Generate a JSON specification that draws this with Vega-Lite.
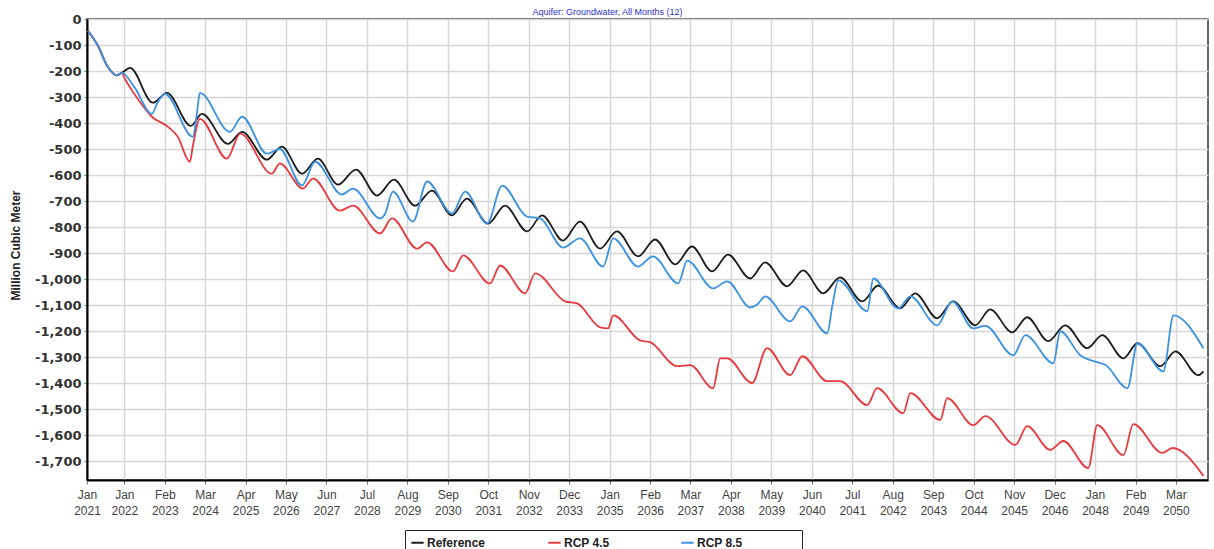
{
  "$schema": "https://vega.github.io/schema/vega-lite/v6.json",
  "width": 1121,
  "height": 461,
  "autosize": {"type": "none"},
  "padding": {"left": 87, "top": 19, "right": 6, "bottom": 69},
  "background": "white",
  "title": {"text": "Aquifer: Groundwater, All Months (12)", "fontSize": 9, "color": "#3030c8", "font": "Liberation Sans", "fontWeight": "normal", "anchor": "middle", "offset": -4, "dx": -40},
  "config": {"view": {"stroke": "#333", "strokeWidth": 1.5}},
  "data": {"values": [
    {"s": "Reference", "d": "2021-01-10", "v": -45},
    {"s": "Reference", "d": "2021-04-17", "v": -102},
    {"s": "Reference", "d": "2021-07-23", "v": -184},
    {"s": "Reference", "d": "2021-10-20", "v": -217},
    {"s": "Reference", "d": "2021-12-08", "v": -207},
    {"s": "Reference", "d": "2022-02-26", "v": -188},
    {"s": "Reference", "d": "2022-10-07", "v": -322},
    {"s": "Reference", "d": "2023-02-22", "v": -284},
    {"s": "Reference", "d": "2023-10-14", "v": -411},
    {"s": "Reference", "d": "2024-01-30", "v": -365},
    {"s": "Reference", "d": "2024-10-11", "v": -480},
    {"s": "Reference", "d": "2025-02-26", "v": -434},
    {"s": "Reference", "d": "2025-10-27", "v": -541},
    {"s": "Reference", "d": "2026-03-22", "v": -491},
    {"s": "Reference", "d": "2026-10-05", "v": -595},
    {"s": "Reference", "d": "2027-03-09", "v": -537},
    {"s": "Reference", "d": "2027-09-22", "v": -637},
    {"s": "Reference", "d": "2028-03-16", "v": -579},
    {"s": "Reference", "d": "2028-10-08", "v": -679},
    {"s": "Reference", "d": "2029-03-22", "v": -618},
    {"s": "Reference", "d": "2029-10-15", "v": -718},
    {"s": "Reference", "d": "2030-03-29", "v": -660},
    {"s": "Reference", "d": "2030-10-11", "v": -755},
    {"s": "Reference", "d": "2031-03-06", "v": -691},
    {"s": "Reference", "d": "2031-09-29", "v": -787},
    {"s": "Reference", "d": "2032-03-13", "v": -718},
    {"s": "Reference", "d": "2032-10-15", "v": -817},
    {"s": "Reference", "d": "2033-03-10", "v": -755},
    {"s": "Reference", "d": "2033-10-02", "v": -852},
    {"s": "Reference", "d": "2034-03-16", "v": -779},
    {"s": "Reference", "d": "2034-09-29", "v": -883},
    {"s": "Reference", "d": "2035-03-13", "v": -817},
    {"s": "Reference", "d": "2035-10-06", "v": -913},
    {"s": "Reference", "d": "2036-03-20", "v": -848},
    {"s": "Reference", "d": "2036-10-03", "v": -944},
    {"s": "Reference", "d": "2037-03-16", "v": -875},
    {"s": "Reference", "d": "2037-09-29", "v": -971},
    {"s": "Reference", "d": "2038-03-04", "v": -906},
    {"s": "Reference", "d": "2038-10-06", "v": -998},
    {"s": "Reference", "d": "2039-03-01", "v": -936},
    {"s": "Reference", "d": "2039-10-03", "v": -1028},
    {"s": "Reference", "d": "2040-03-07", "v": -967},
    {"s": "Reference", "d": "2040-09-20", "v": -1055},
    {"s": "Reference", "d": "2041-03-04", "v": -994},
    {"s": "Reference", "d": "2041-10-07", "v": -1086},
    {"s": "Reference", "d": "2042-03-11", "v": -1025},
    {"s": "Reference", "d": "2042-10-13", "v": -1113},
    {"s": "Reference", "d": "2043-03-08", "v": -1055},
    {"s": "Reference", "d": "2043-10-10", "v": -1151},
    {"s": "Reference", "d": "2044-03-14", "v": -1086},
    {"s": "Reference", "d": "2044-10-16", "v": -1178},
    {"s": "Reference", "d": "2045-03-11", "v": -1117},
    {"s": "Reference", "d": "2045-10-13", "v": -1205},
    {"s": "Reference", "d": "2046-03-08", "v": -1147},
    {"s": "Reference", "d": "2046-10-01", "v": -1239},
    {"s": "Reference", "d": "2047-03-15", "v": -1178},
    {"s": "Reference", "d": "2047-10-17", "v": -1266},
    {"s": "Reference", "d": "2048-03-12", "v": -1216},
    {"s": "Reference", "d": "2048-10-04", "v": -1305},
    {"s": "Reference", "d": "2049-02-19", "v": -1247},
    {"s": "Reference", "d": "2049-10-01", "v": -1335},
    {"s": "Reference", "d": "2050-02-26", "v": -1278},
    {"s": "Reference", "d": "2050-10-07", "v": -1370},
    {"s": "Reference", "d": "2050-11-26", "v": -1355},

    {"s": "RCP 4.5", "d": "2021-01-10", "v": -45},
    {"s": "RCP 4.5", "d": "2021-04-17", "v": -102},
    {"s": "RCP 4.5", "d": "2021-07-23", "v": -184},
    {"s": "RCP 4.5", "d": "2021-10-20", "v": -217},
    {"s": "RCP 4.5", "d": "2021-12-08", "v": -207},
    {"s": "RCP 4.5", "d": "2022-01-07", "v": -230},
    {"s": "RCP 4.5", "d": "2022-05-13", "v": -307},
    {"s": "RCP 4.5", "d": "2022-09-28", "v": -376},
    {"s": "RCP 4.5", "d": "2023-03-02", "v": -414},
    {"s": "RCP 4.5", "d": "2023-06-08", "v": -453},
    {"s": "RCP 4.5", "d": "2023-10-04", "v": -549},
    {"s": "RCP 4.5", "d": "2023-11-03", "v": -487},
    {"s": "RCP 4.5", "d": "2024-01-10", "v": -384},
    {"s": "RCP 4.5", "d": "2024-10-01", "v": -537},
    {"s": "RCP 4.5", "d": "2025-02-07", "v": -441},
    {"s": "RCP 4.5", "d": "2025-12-15", "v": -595},
    {"s": "RCP 4.5", "d": "2026-03-02", "v": -555},
    {"s": "RCP 4.5", "d": "2026-10-14", "v": -652},
    {"s": "RCP 4.5", "d": "2027-01-21", "v": -614},
    {"s": "RCP 4.5", "d": "2027-10-11", "v": -737},
    {"s": "RCP 4.5", "d": "2028-02-17", "v": -718},
    {"s": "RCP 4.5", "d": "2028-11-07", "v": -825},
    {"s": "RCP 4.5", "d": "2029-03-03", "v": -767},
    {"s": "RCP 4.5", "d": "2029-11-04", "v": -883},
    {"s": "RCP 4.5", "d": "2030-02-10", "v": -859},
    {"s": "RCP 4.5", "d": "2030-10-21", "v": -971},
    {"s": "RCP 4.5", "d": "2031-01-28", "v": -909},
    {"s": "RCP 4.5", "d": "2031-10-18", "v": -1017},
    {"s": "RCP 4.5", "d": "2032-01-25", "v": -948},
    {"s": "RCP 4.5", "d": "2032-09-26", "v": -1055},
    {"s": "RCP 4.5", "d": "2033-01-02", "v": -978},
    {"s": "RCP 4.5", "d": "2033-10-22", "v": -1086},
    {"s": "RCP 4.5", "d": "2034-02-17", "v": -1094},
    {"s": "RCP 4.5", "d": "2034-09-29", "v": -1186},
    {"s": "RCP 4.5", "d": "2034-12-16", "v": -1190},
    {"s": "RCP 4.5", "d": "2035-02-05", "v": -1140},
    {"s": "RCP 4.5", "d": "2035-10-25", "v": -1236},
    {"s": "RCP 4.5", "d": "2036-02-01", "v": -1243},
    {"s": "RCP 4.5", "d": "2036-10-22", "v": -1335},
    {"s": "RCP 4.5", "d": "2037-02-27", "v": -1331},
    {"s": "RCP 4.5", "d": "2037-10-09", "v": -1420},
    {"s": "RCP 4.5", "d": "2037-12-17", "v": -1305},
    {"s": "RCP 4.5", "d": "2038-02-24", "v": -1305},
    {"s": "RCP 4.5", "d": "2038-10-25", "v": -1400},
    {"s": "RCP 4.5", "d": "2039-03-20", "v": -1266},
    {"s": "RCP 4.5", "d": "2039-11-02", "v": -1370},
    {"s": "RCP 4.5", "d": "2040-02-28", "v": -1297},
    {"s": "RCP 4.5", "d": "2040-10-29", "v": -1393},
    {"s": "RCP 4.5", "d": "2041-03-04", "v": -1393},
    {"s": "RCP 4.5", "d": "2041-11-25", "v": -1485},
    {"s": "RCP 4.5", "d": "2042-03-01", "v": -1420},
    {"s": "RCP 4.5", "d": "2042-11-12", "v": -1516},
    {"s": "RCP 4.5", "d": "2043-01-20", "v": -1439},
    {"s": "RCP 4.5", "d": "2043-11-09", "v": -1542},
    {"s": "RCP 4.5", "d": "2044-01-16", "v": -1458},
    {"s": "RCP 4.5", "d": "2044-09-27", "v": -1562},
    {"s": "RCP 4.5", "d": "2045-01-23", "v": -1527},
    {"s": "RCP 4.5", "d": "2045-11-12", "v": -1638},
    {"s": "RCP 4.5", "d": "2046-03-08", "v": -1566},
    {"s": "RCP 4.5", "d": "2046-10-20", "v": -1657},
    {"s": "RCP 4.5", "d": "2047-02-25", "v": -1623},
    {"s": "RCP 4.5", "d": "2047-10-26", "v": -1727},
    {"s": "RCP 4.5", "d": "2048-01-23", "v": -1562},
    {"s": "RCP 4.5", "d": "2048-10-04", "v": -1677},
    {"s": "RCP 4.5", "d": "2049-01-10", "v": -1558},
    {"s": "RCP 4.5", "d": "2049-10-20", "v": -1669},
    {"s": "RCP 4.5", "d": "2050-01-27", "v": -1650},
    {"s": "RCP 4.5", "d": "2050-11-26", "v": -1757},

    {"s": "RCP 8.5", "d": "2021-01-10", "v": -45},
    {"s": "RCP 8.5", "d": "2021-04-17", "v": -102},
    {"s": "RCP 8.5", "d": "2021-07-23", "v": -184},
    {"s": "RCP 8.5", "d": "2021-10-20", "v": -217},
    {"s": "RCP 8.5", "d": "2021-12-08", "v": -207},
    {"s": "RCP 8.5", "d": "2022-04-14", "v": -265},
    {"s": "RCP 8.5", "d": "2022-09-28", "v": -365},
    {"s": "RCP 8.5", "d": "2022-11-16", "v": -326},
    {"s": "RCP 8.5", "d": "2023-02-03", "v": -288},
    {"s": "RCP 8.5", "d": "2023-11-03", "v": -453},
    {"s": "RCP 8.5", "d": "2023-12-12", "v": -364},
    {"s": "RCP 8.5", "d": "2024-01-10", "v": -284},
    {"s": "RCP 8.5", "d": "2024-10-30", "v": -434},
    {"s": "RCP 8.5", "d": "2025-02-26", "v": -376},
    {"s": "RCP 8.5", "d": "2025-10-27", "v": -518},
    {"s": "RCP 8.5", "d": "2026-03-02", "v": -500},
    {"s": "RCP 8.5", "d": "2026-10-05", "v": -640},
    {"s": "RCP 8.5", "d": "2027-02-10", "v": -549},
    {"s": "RCP 8.5", "d": "2027-10-30", "v": -675},
    {"s": "RCP 8.5", "d": "2028-02-17", "v": -652},
    {"s": "RCP 8.5", "d": "2028-11-07", "v": -767},
    {"s": "RCP 8.5", "d": "2028-12-25", "v": -750},
    {"s": "RCP 8.5", "d": "2029-03-12", "v": -664},
    {"s": "RCP 8.5", "d": "2029-09-25", "v": -779},
    {"s": "RCP 8.5", "d": "2030-02-10", "v": -625},
    {"s": "RCP 8.5", "d": "2030-10-11", "v": -748},
    {"s": "RCP 8.5", "d": "2031-02-17", "v": -664},
    {"s": "RCP 8.5", "d": "2031-09-19", "v": -787},
    {"s": "RCP 8.5", "d": "2032-02-14", "v": -641},
    {"s": "RCP 8.5", "d": "2032-10-15", "v": -760},
    {"s": "RCP 8.5", "d": "2033-02-20", "v": -767},
    {"s": "RCP 8.5", "d": "2033-10-02", "v": -879},
    {"s": "RCP 8.5", "d": "2034-03-16", "v": -844},
    {"s": "RCP 8.5", "d": "2034-10-28", "v": -952},
    {"s": "RCP 8.5", "d": "2035-02-05", "v": -844},
    {"s": "RCP 8.5", "d": "2035-10-06", "v": -952},
    {"s": "RCP 8.5", "d": "2036-02-28", "v": -913},
    {"s": "RCP 8.5", "d": "2036-11-01", "v": -1017},
    {"s": "RCP 8.5", "d": "2037-01-28", "v": -929},
    {"s": "RCP 8.5", "d": "2037-10-09", "v": -1036},
    {"s": "RCP 8.5", "d": "2038-02-24", "v": -1009},
    {"s": "RCP 8.5", "d": "2038-10-06", "v": -1109},
    {"s": "RCP 8.5", "d": "2038-12-14", "v": -1098},
    {"s": "RCP 8.5", "d": "2039-03-01", "v": -1067},
    {"s": "RCP 8.5", "d": "2039-11-02", "v": -1163},
    {"s": "RCP 8.5", "d": "2040-02-28", "v": -1105},
    {"s": "RCP 8.5", "d": "2040-10-29", "v": -1209},
    {"s": "RCP 8.5", "d": "2040-12-17", "v": -1105},
    {"s": "RCP 8.5", "d": "2041-02-15", "v": -1005},
    {"s": "RCP 8.5", "d": "2041-11-25", "v": -1124},
    {"s": "RCP 8.5", "d": "2042-01-23", "v": -998},
    {"s": "RCP 8.5", "d": "2042-09-24", "v": -1113},
    {"s": "RCP 8.5", "d": "2043-01-20", "v": -1067},
    {"s": "RCP 8.5", "d": "2043-10-10", "v": -1178},
    {"s": "RCP 8.5", "d": "2044-03-05", "v": -1086},
    {"s": "RCP 8.5", "d": "2044-09-27", "v": -1190},
    {"s": "RCP 8.5", "d": "2045-01-23", "v": -1180},
    {"s": "RCP 8.5", "d": "2045-10-23", "v": -1293},
    {"s": "RCP 8.5", "d": "2046-02-19", "v": -1216},
    {"s": "RCP 8.5", "d": "2046-11-19", "v": -1324},
    {"s": "RCP 8.5", "d": "2047-01-26", "v": -1201},
    {"s": "RCP 8.5", "d": "2047-08-09", "v": -1293},
    {"s": "RCP 8.5", "d": "2048-01-23", "v": -1320},
    {"s": "RCP 8.5", "d": "2048-04-10", "v": -1330},
    {"s": "RCP 8.5", "d": "2048-11-13", "v": -1420},
    {"s": "RCP 8.5", "d": "2049-02-19", "v": -1247},
    {"s": "RCP 8.5", "d": "2049-10-30", "v": -1355},
    {"s": "RCP 8.5", "d": "2050-02-07", "v": -1140},
    {"s": "RCP 8.5", "d": "2050-11-26", "v": -1266}
  ]},
  "mark": {"type": "line", "interpolate": "monotone", "strokeWidth": 1.8},
  "encoding": {
    "x": {
      "field": "d", "type": "temporal",
      "scale": {"type": "utc", "domain": [{"year": 2021, "month": 1, "date": 1, "utc": true}, {"year": 2051, "month": 1, "date": 10, "utc": true}]},
      "axis": {
        "title": null,
        "values": [
          {"year": 2021, "month": 1, "date": 1, "utc": true},
          {"year": 2022, "month": 1, "date": 1, "utc": true},
          {"year": 2023, "month": 2, "date": 1, "utc": true},
          {"year": 2024, "month": 3, "date": 1, "utc": true},
          {"year": 2025, "month": 4, "date": 1, "utc": true},
          {"year": 2026, "month": 5, "date": 1, "utc": true},
          {"year": 2027, "month": 6, "date": 1, "utc": true},
          {"year": 2028, "month": 7, "date": 1, "utc": true},
          {"year": 2029, "month": 8, "date": 1, "utc": true},
          {"year": 2030, "month": 9, "date": 1, "utc": true},
          {"year": 2031, "month": 10, "date": 1, "utc": true},
          {"year": 2032, "month": 11, "date": 1, "utc": true},
          {"year": 2033, "month": 12, "date": 1, "utc": true},
          {"year": 2035, "month": 1, "date": 1, "utc": true},
          {"year": 2036, "month": 2, "date": 1, "utc": true},
          {"year": 2037, "month": 3, "date": 1, "utc": true},
          {"year": 2038, "month": 4, "date": 1, "utc": true},
          {"year": 2039, "month": 5, "date": 1, "utc": true},
          {"year": 2040, "month": 6, "date": 1, "utc": true},
          {"year": 2041, "month": 7, "date": 1, "utc": true},
          {"year": 2042, "month": 8, "date": 1, "utc": true},
          {"year": 2043, "month": 9, "date": 1, "utc": true},
          {"year": 2044, "month": 10, "date": 1, "utc": true},
          {"year": 2045, "month": 11, "date": 1, "utc": true},
          {"year": 2046, "month": 12, "date": 1, "utc": true},
          {"year": 2048, "month": 1, "date": 1, "utc": true},
          {"year": 2049, "month": 2, "date": 1, "utc": true},
          {"year": 2050, "month": 3, "date": 1, "utc": true}
        ],
        "labelExpr": "[utcFormat(datum.value, '%b'), utcFormat(datum.value, '%Y')]",
        "labelFont": "Liberation Sans", "labelFontSize": 12, "labelColor": "#444",
        "labelLineHeight": 16, "labelPadding": 5, "labelOverlap": false, "labelFlush": false,
        "tickSize": 4, "tickColor": "#777",
        "domainColor": "#000", "domainWidth": 2,
        "gridColor": "#d6d6d6", "gridWidth": 1.5
      }
    },
    "y": {
      "field": "v", "type": "quantitative",
      "scale": {"domain": [-1773, 0], "nice": false, "zero": false},
      "axis": {
        "values": [0, -100, -200, -300, -400, -500, -600, -700, -800, -900, -1000, -1100, -1200, -1300, -1400, -1500, -1600, -1700],
        "labelExpr": "replace(format(datum.value, ','), '\u2212', '-')",
        "labelFont": "DejaVu Sans", "labelFontWeight": "bold", "labelFontSize": 13, "labelColor": "#333",
        "tickSize": 3, "tickColor": "#777", "labelPadding": 3,
        "domainColor": "#000", "domainWidth": 2,
        "gridColor": "#d6d6d6", "gridWidth": 1.5,
        "title": "Million Cubic Meter",
        "titleFont": "Liberation Sans", "titleFontSize": 12, "titleFontWeight": "bold", "titleColor": "#222",
        "titleX": -72, "titleY": 226, "titleAngle": 270, "titleAlign": "center", "titleBaseline": "middle"
      }
    },
    "color": {
      "field": "s", "type": "nominal",
      "scale": {"domain": ["Reference", "RCP 4.5", "RCP 8.5"], "range": ["#1e1e1e", "#e63a3f", "#3b92e0"]},
      "legend": {
        "orient": "none", "legendX": 318, "legendY": 511,
        "direction": "horizontal", "columns": 3, "title": null,
        "symbolType": "stroke", "symbolSize": 150, "symbolStrokeWidth": 2,
        "labelFont": "Liberation Sans", "labelFontWeight": "bold", "labelFontSize": 12, "labelColor": "#222",
        "labelOffset": 2, "columnPadding": 58,
        "labelExpr": "datum.label == 'RCP 8.5' ? datum.label + '\u2800\u2800\u2800\u2800\u2800\u2800' : datum.label == 'RCP 4.5' ? datum.label + '\u2800' : datum.label",
        "strokeColor": "#222", "fillColor": "white", "padding": 5
      }
    }
  }
}
